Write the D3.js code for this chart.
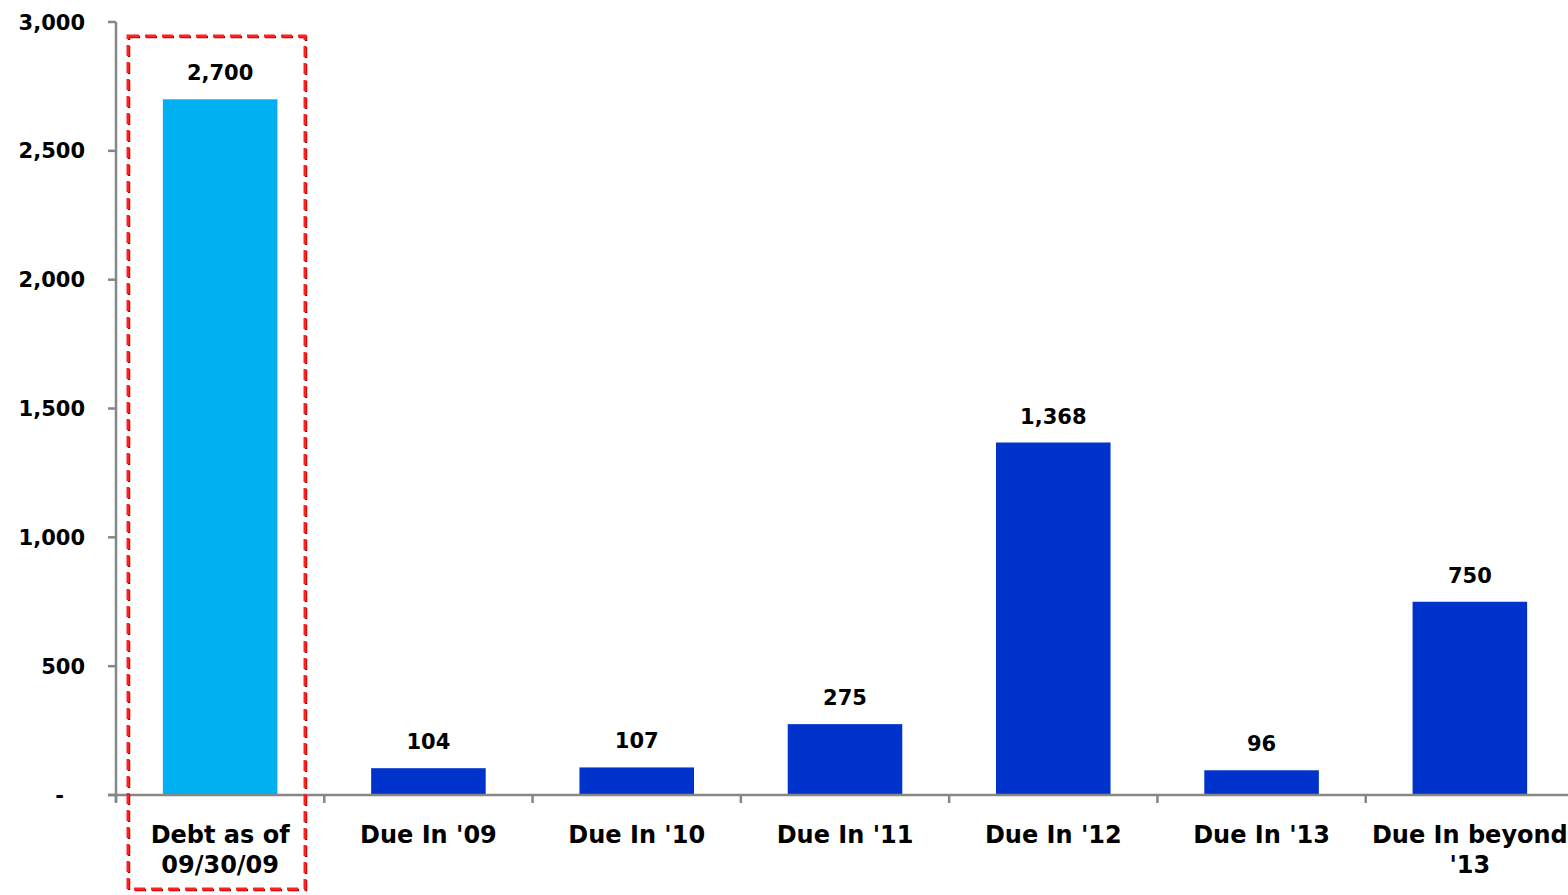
<!DOCTYPE html>
<html>
<head>
<meta charset="utf-8">
<script src="https://cdn.jsdelivr.net/npm/d3@7/dist/d3.min.js"></script>
<style>
  html, body { margin: 0; padding: 0; background: #fff; }
  svg { display: block; }
  text { font-family: "DejaVu Sans", Verdana, sans-serif; font-weight: bold; fill: #000; }
</style>
</head>
<body>
<svg id="chart" width="1568" height="895"></svg>
<script>
const categories = [["Debt as of", "09/30/09"], ["Due In '09"], ["Due In '10"], ["Due In '11"], ["Due In '12"], ["Due In '13"], ["Due In beyond", "'13"]];
const values = [2700, 104, 107, 275, 1368, 96, 750];
const barColors = ["#00B0F0", "#0033CC", "#0033CC", "#0033CC", "#0033CC", "#0033CC", "#0033CC"];
const yTicks = [0, 500, 1000, 1500, 2000, 2500, 3000];
const yTickLabels = ["-", "500", "1,000", "1,500", "2,000", "2,500", "3,000"];

const svg = d3.select("#chart");
const axisColor = "#868686";

const x = d3.scaleBand().domain(d3.range(categories.length)).range([116, 1574]).paddingInner(0.45).paddingOuter(0.225);
const y = d3.scaleLinear().domain([0, 3000]).range([795, 22]);

// Bars
svg.selectAll("rect.bar").data(values).enter().append("rect")
  .attr("class", "bar")
  .attr("x", (d, i) => x(i))
  .attr("y", d => y(d))
  .attr("width", x.bandwidth())
  .attr("height", d => y(0) - y(d))
  .attr("fill", (d, i) => barColors[i]);

// Data labels
svg.selectAll("text.val").data(values).enter().append("text")
  .attr("class", "val")
  .attr("x", (d, i) => x(i) + x.bandwidth() / 2)
  .attr("y", d => y(d) - 19)
  .attr("text-anchor", "middle")
  .attr("font-size", 21)
  .text(d => d3.format(",")(d));

// Y axis
const yAxisG = svg.append("g").attr("transform", "translate(116,0)");
yAxisG.append("line").attr("x1", 0).attr("x2", 0).attr("y1", y(3000)).attr("y2", y(0) + 7)
  .attr("stroke", axisColor).attr("stroke-width", 2.5);
yAxisG.selectAll("line.tk").data(yTicks).enter().append("line")
  .attr("class", "tk")
  .attr("x1", -8).attr("x2", 0)
  .attr("y1", d => y(d)).attr("y2", d => y(d))
  .attr("stroke", axisColor).attr("stroke-width", 2.5);
yAxisG.selectAll("text.yl").data(yTicks).enter().append("text")
  .attr("class", "yl")
  .attr("x", (d, i) => i === 0 ? -52 : -31)
  .attr("y", d => y(d))
  .attr("dy", "0.36em")
  .attr("text-anchor", "end")
  .attr("font-size", 21)
  .text((d, i) => yTickLabels[i]);

// X axis
const xAxisG = svg.append("g");
xAxisG.append("line").attr("x1", 108).attr("x2", 1568).attr("y1", y(0)).attr("y2", y(0))
  .attr("stroke", axisColor).attr("stroke-width", 2.5);
const bounds = d3.range(categories.length).map(i => x(i) - x.step() * x.paddingInner() / 2);
xAxisG.selectAll("line.ct").data(bounds).enter().append("line")
  .attr("class", "ct")
  .attr("x1", d => d).attr("x2", d => d)
  .attr("y1", y(0)).attr("y2", y(0) + 8)
  .attr("stroke", axisColor).attr("stroke-width", 2.5);

const lbl = xAxisG.selectAll("text.xl").data(categories).enter().append("text")
  .attr("class", "xl")
  .attr("text-anchor", "middle")
  .attr("font-size", 24)
  .attr("transform", (d, i) => `translate(${x(i) + x.bandwidth() / 2},843)`);
lbl.selectAll("tspan").data(d => d).enter().append("tspan")
  .attr("x", 0)
  .attr("dy", (d, j) => j === 0 ? 0 : 30)
  .text(d => d);

// Highlight dashed box
const bx = 128, by = 36, bw = 177, bh = 853;
svg.append("rect").attr("x", bx + 1).attr("y", by + 1).attr("width", bw).attr("height", bh)
  .attr("fill", "none").attr("stroke", "#A00000").attr("stroke-width", 2.5)
  .attr("stroke-dasharray", "11,6");
svg.append("rect").attr("x", bx).attr("y", by).attr("width", bw).attr("height", bh)
  .attr("fill", "none").attr("stroke", "#FF2020").attr("stroke-width", 3)
  .attr("stroke-dasharray", "11,6");
</script>
</body>
</html>
